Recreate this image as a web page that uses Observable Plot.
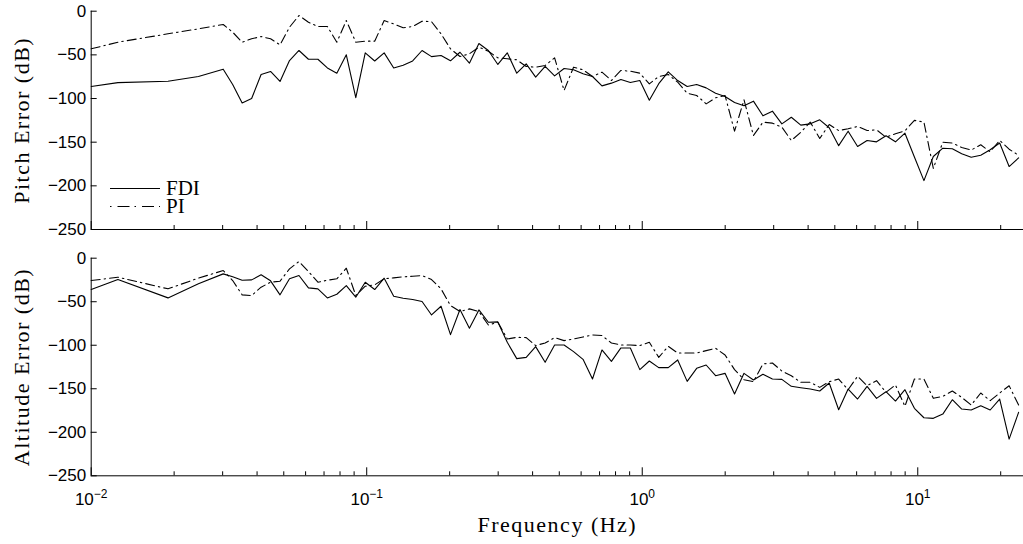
<!DOCTYPE html>
<html><head><meta charset="utf-8">
<script src="https://cdn.jsdelivr.net/npm/d3@7"></script>
<script src="https://cdn.jsdelivr.net/npm/@observablehq/plot@0.6"></script>
<style>
body{margin:0;background:#fff;}
#chart{position:relative;width:1023px;height:544px;overflow:hidden;}
#chart svg{position:absolute;left:0;}
</style></head><body><div id="chart"></div>
<script>
// ---------- data ----------
const lowFreq = [0.01, 0.0125, 0.019, 0.0245];
const gridFreq = [
 0.03014,0.03262,0.03531,0.03822,0.04137,0.04477,0.04846,0.05245,0.05677,0.06145,
 0.0665,0.07198,0.0779,0.08432,0.09127,0.09878,0.1069,0.1157,0.1253,0.1356,
 0.1468,0.1588,0.1719,0.1861,0.2014,0.218,0.2359,0.2554,0.2764,0.2992,
 0.3237,0.3504,0.3792,0.4104,0.4442,0.4808,0.5204,0.5633,0.6097,0.6599,
 0.7142,0.773,0.8367,0.9056,0.9801,1.061,1.148,1.243,1.345,1.456,
 1.576,1.706,1.846,1.998,2.163,2.341,2.533,2.742,2.968,3.212,
 3.476,3.763,4.073,4.408,4.771,5.164,5.589,6.049,6.548,7.087,
 7.669,8.301,8.984,9.724,10.53,11.39,12.33,13.35,14.44,15.63,
 16.93,18.32,19.83,21.46,23.23];
const frequency = lowFreq.concat(gridFreq);

const pitchFDI = [-86.2,-81.8,-80.2,-74.8,
 -66.4,-84,-105,-100,-72.5,-69,-80.5,-56.5,-45,-55,
 -55,-65,-71,-50,-99,-47.7,-57,-47.7,-65,-62,
 -57,-45,-52,-50.7,-56.8,-47,-59.5,-37,-45,-61,
 -47.7,-71,-60.3,-75.5,-63.3,-74,-65.6,-67,-71.7,-74.8,
 -85.5,-82.4,-78.2,-81.6,-79.4,-102,-83,-69.4,-79.4,-86.2,
 -84,-87.8,-94,-97.7,-104.5,-108.3,-103,-119.8,-114.5,-129,
 -121.4,-130.5,-129,-124.4,-133.5,-154,-137.4,-155,-148,-149.6,
 -142.7,-149.6,-139.7,-167,-194,-166.4,-156.9,-157.6,-163.3,-167.2,
 -165,-158.7,-151,-177.9,-168];
const pitchPI = [-43.1,-35.5,-25.9,-20.2,
 -15.2,-24,-35.5,-31.6,-29,-31.6,-38.5,-18.3,-4.9,-12.6,
 -17.5,-17.5,-35.5,-10.7,-35.5,-34.3,-34.3,-10.7,-14.5,-19,
 -17.5,-11.4,-12,-25.9,-43.1,-51.9,-48.8,-41.2,-45.8,-53.4,
 -54.5,-55.7,-63.3,-64.1,-62.2,-53.4,-90.8,-64.1,-67.1,-74.8,
 -69.8,-79.4,-67.9,-68.7,-71,-83.2,-74.8,-72.5,-81.3,-93.9,
 -96.5,-106.1,-99.2,-96.5,-137.4,-101.5,-142.4,-127.1,-128.2,-132.8,
 -148.1,-138.6,-127.1,-145.8,-129.8,-136.7,-134.7,-132,-136.7,-135.9,
 -144.3,-140.4,-137,-125,-127,-180,-150,-151,-156,-159,
 -153,-161,-148,-158,-165];
const altitudeFDI = [-36,-24.5,-45.6,-29.4,
 -18,-21.4,-25.3,-24.9,-19.1,-26,-42.1,-23.7,-19.9,-34.1,
 -35.2,-45.6,-41.4,-31.4,-44.8,-27.6,-36,-23,-43.7,-46,
 -47.5,-49.8,-65.2,-55.2,-87.8,-59,-80.5,-59.4,-73.6,-73.2,
 -96.6,-115.4,-113.9,-101.6,-119.6,-99.7,-99.7,-107.3,-116.2,-138.8,
 -105.4,-118.5,-103.1,-103.1,-128,-118.1,-125.7,-125.7,-116.9,-141.5,
 -126.5,-122.7,-135,-132.3,-156,-132.3,-139.9,-133.4,-138.8,-139.2,
 -147.2,-148.8,-150.3,-152.6,-143.4,-174.1,-150.3,-161.8,-147.2,-161,
 -153.4,-164.1,-151.1,-172.5,-183.3,-184,-179.1,-162.6,-173.3,-174.4,
 -169.5,-174.4,-161.8,-207.8,-177.1];
const altitudePI = [-25.7,-21.8,-35.2,-22.9,
 -14.2,-25.7,-42.1,-42.9,-33.3,-27.6,-26.4,-12.2,-3.8,-15.3,
 -27.6,-25.3,-23.7,-11.5,-42.9,-32.2,-30.6,-23.7,-22.6,-21.4,
 -20.7,-19.9,-24.5,-35.2,-54.4,-61.3,-58.2,-61.3,-76.7,-73.6,
 -92.8,-90.9,-91.2,-100.4,-97.4,-91.2,-94.7,-92.8,-90.5,-88.2,
 -88.9,-97.4,-99.7,-99.7,-100.4,-96.6,-113.9,-101.2,-108.9,-108.9,
 -108.9,-106.2,-103.5,-111.2,-128,-139.6,-141.9,-121.5,-120.4,-129.6,
 -135,-142.6,-142.6,-148.4,-141.9,-138.8,-151.1,-135.7,-146.5,-140.7,
 -154.1,-145.7,-170.2,-138.8,-138.8,-161,-158.7,-152.6,-159.9,-168.7,
 -154.9,-163.7,-154.9,-146.5,-168.7];

const yTicks = [0, -50, -100, -150, -200, -250];
const majorTicks = [0.01, 0.1, 1, 10];
const minorTicks = [0.02,0.03,0.04,0.05,0.06,0.07,0.08,0.09,
  0.2,0.3,0.4,0.5,0.6,0.7,0.8,0.9, 2,3,4,5,6,7,8,9, 20];
const seriesNames = ["FDI", "PI"];
const yTitles = ["Pitch Error (dB)", "Altitude Error (dB)"];
const xTitle = "Frequency (Hz)";

// ---------- helpers ----------
const rows = vals => frequency.map((f, i) => ({f, v: vals[i]}));
const minus = d => d < 0 ? "\u2212" + (-d) : String(d);
const serif = "'Liberation Serif', 'Times New Roman', serif";
const sans = "'Liberation Sans', Arial, Helvetica, sans-serif";
const dashDot = "9,4,1.5,4";

function panel(fdi, pi, yTitle, opts) {
  const marks = [
    Plot.ruleX([0.01], {stroke: "#000", strokeWidth: 1}),
    Plot.ruleY([-250], {stroke: "#000", strokeWidth: 1}),
    Plot.axisY({ticks: yTicks, tickSize: -6, tickFormat: () => "", label: null, stroke: "#000"}),
    Plot.axisY({ticks: yTicks, tickSize: 0, tickPadding: 5, tickFormat: minus, label: null,
                fontSize: 17, fontFamily: sans, fill: "#000"}),
    Plot.axisX({ticks: majorTicks, tickSize: -8, tickFormat: () => "", label: null, stroke: "#000"}),
    Plot.axisX({ticks: minorTicks, tickSize: -4, tickFormat: () => "", label: null, stroke: "#000"}),
    Plot.line(rows(fdi), {x: "f", y: "v", stroke: "#000", strokeWidth: 1.1}),
    Plot.line(rows(pi), {x: "f", y: "v", stroke: "#000", strokeWidth: 1.1, strokeDasharray: dashDot}),
    Plot.text([yTitle], {text: d => d, frameAnchor: "left", textAnchor: "middle", lineAnchor: "middle",
                dx: -69, rotate: -90, fontFamily: serif, fontSize: 22, fill: "#000"})
  ];
  if (opts.bottom) {
    marks.push(Plot.axisX({ticks: majorTicks, tickSize: 0, tickPadding: 17,
      tickFormat: d => "10^" + Math.round(Math.log10(d)), label: null,
      fontSize: 17, fontFamily: sans, fill: "#000"}));
    marks.push(Plot.text([xTitle], {text: d => d, frameAnchor: "bottom", textAnchor: "middle",
      lineAnchor: "middle", dy: 49, fontFamily: serif, fontSize: 22, fill: "#000"}));
  }
  return Plot.plot({
    width: 1023, height: opts.height,
    marginLeft: 90.7, marginRight: 0, marginTop: opts.mt, marginBottom: opts.mb,
    x: {type: "log", domain: [0.01, 24.2]},
    y: {domain: [-250, 0]},
    style: {background: "transparent", overflow: "visible"},
    marks
  });
}

const chart = document.getElementById("chart");
const topSvg = panel(pitchFDI, pitchPI, yTitles[0], {height: 240, mt: 10.7, mb: 11});
const botSvg = panel(altitudeFDI, altitudePI, yTitles[1], {height: 304, mt: 17.7, mb: 68.7, bottom: true});
topSvg.style.top = "0px"; botSvg.style.top = "240px";
chart.appendChild(topSvg); chart.appendChild(botSvg);

// letter spacing for the serif titles (Computer Modern is wider than Times)
d3.selectAll("#chart text").filter(function(){ return yTitles.includes(this.textContent) || this.textContent === xTitle; })
  .style("letter-spacing", "1.5px");

// superscript exponents on the x tick labels
d3.select(botSvg).selectAll('g[aria-label="x-axis tick label"] text').each(function() {
  const t = d3.select(this); const s = t.text(); if (!s.includes("^")) return;
  const [b, e] = s.split("^");
  t.text(b);
  t.append("tspan").attr("dy", "-0.55em").attr("font-size", 12).text(e.replace("-", "\u2212"));
});

// legend (top panel)
const lg = d3.select(topSvg).append("g").attr("font-family", serif).attr("font-size", 21)
  .attr("fill", "#000").attr("text-anchor", "start");
const legendY = [188.5, 206.5];
seriesNames.forEach((name, i) => {
  lg.append("line").attr("x1", 110).attr("x2", 160).attr("y1", legendY[i]).attr("y2", legendY[i])
    .attr("stroke", "#000").attr("stroke-width", 1.1)
    .attr("stroke-dasharray", i === 1 ? "1.5,6,12,5" : null);
  lg.append("text").attr("x", 166).attr("y", legendY[i] + 6.5).text(name);
});
</script></body></html>
